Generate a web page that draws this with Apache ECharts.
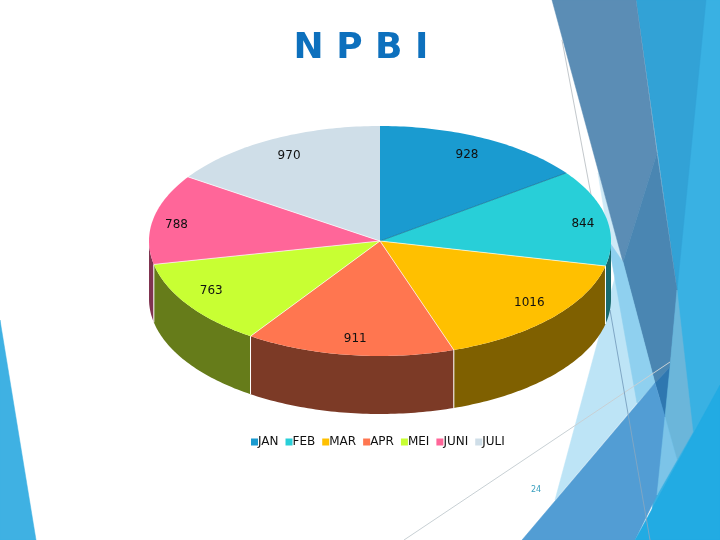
<!DOCTYPE html>
<html>
<head>
<meta charset="utf-8">
<style>html,body{margin:0;padding:0;background:#fff}#c{width:720px;height:540px}</style>
<script src="https://cdn.jsdelivr.net/npm/echarts@6/dist/echarts.min.js"></script>
</head>
<body>
<div id="c"></div>
<script>
const categories = ['JAN','FEB','MAR','APR','MEI','JUNI','JULI'];
const values = [928,844,1016,911,763,788,970];
const topColors = ['#1a9bd0','#28cfd8','#ffc000','#ff7650','#c8ff33','#ff6699','#cfdee8'];
const wallColors = ['#0e5570','#186a6e','#7f6000','#7c3a26','#667c1a','#7f3350','#6a7880'];

const CX = 380, CY = 241, RX = 231, RY = 115, DEPTH = 58;
const total = values.reduce((a,b)=>a+b,0);
function pt(deg, dy){
  const r = deg*Math.PI/180;
  return [CX+RX*Math.sin(r), CY-RY*Math.cos(r)+(dy||0)];
}
function arc(a1,a2,dy){
  const p=[]; const n=Math.max(2,Math.ceil(Math.abs(a2-a1)));
  for(let i=0;i<=n;i++) p.push(pt(a1+(a2-a1)*i/n,dy));
  return p;
}
function sliceItem(index){
  return function(params, api){
    let before=0; for(let i=0;i<index;i++) before+=values[i];
    const v=api.value(0);
    const a1=before/total*360, a2=(before+v)/total*360;
    const kids=[];
    const w1=Math.max(a1,90), w2=Math.min(a2,270);
    if(w2>w1){
      const front=arc(w1,w2,0), back=arc(w2,w1,DEPTH);
      kids.push({type:'polygon',shape:{points:front.concat(back)},style:{fill:wallColors[index]},z2:1});
      if(w2===a2){
        const p=pt(a2,0),q=pt(a2,DEPTH);
        kids.push({type:'line',shape:{x1:p[0],y1:p[1],x2:q[0],y2:q[1]},style:{stroke:'#fff',lineWidth:1},z2:2});
      }
    }
    kids.push({type:'polygon',shape:{points:[[CX,CY]].concat(arc(a1,a2,0))},style:{fill:topColors[index]},z2:3});
    if(index<values.length-1){
      const p=pt(a2,0);
      kids.push({type:'line',shape:{x1:CX,y1:CY,x2:p[0],y2:p[1]},
        style:{stroke:index===0?'#146a8f':'#fff',lineWidth:0.8,opacity:0.85},z2:4});
    }
    const m=(a1+a2)/2*Math.PI/180;
    const s=Math.abs(Math.sin(m)), c=Math.abs(Math.cos(m));
    kids.push({type:'text',z2:5,style:{text:String(v),
      x:CX+RX*(0.78+0.12*s)*Math.sin(m),
      y:CY-RY*(0.68+0.18*c)*Math.cos(m),
      align:'center',verticalAlign:'middle',fill:'#111',font:'12px "DejaVu Sans"'}});
    return {type:'group',children:kids};
  };
}
const decor = [
  {c:'#bde4f6',p:[[621,255],[555,500],[637,403],[655,383],[640,300]]},
  {c:'#cfeaf7',p:[[598,173],[623,257],[626,272],[614,272]]},
  {c:'#39b1e3',p:[[700,0],[720,0],[720,400],[650,540],[660,400],[670,367]]},
  {c:'#32a2d6',p:[[636,0],[706,0],[677,290]]},
  {c:'#5b8db5',p:[[552,0],[636,0],[657,153],[623,262]]},
  {c:'#4a86b2',p:[[657,153],[677,290],[670,367],[655,383],[623,262]]},
  {c:'#8fd0ef',p:[[608,240],[623,262],[655,383],[637,403]]},
  {c:'#2e77b0',p:[[655,383],[670,367],[665,417]]},
  {c:'#6bb6da',p:[[677,290],[693,432],[677,460],[665,417],[670,367]]},
  {c:'#529dd4',p:[[522,540],[655,383],[665,417],[657,495],[635,540]]},
  {c:'#7cc4e8',p:[[665,417],[677,460],[657,495]]},
  {c:'#22abe3',p:[[635,540],[720,385],[720,540]]},
  {c:'#3fb1e3',p:[[0,320],[36,540],[0,540]]}
];
const guideLines = [
  {c:'#c3c8cc',p:[562,40,592,200]},
  {c:'#c8d0d4',p:[404,540,670,362]},
  {c:'#7fa6c4',p:[610,310,650,540]}
];
const graphic = [];
decor.forEach(function(d){
  graphic.push({type:'polygon',shape:{points:d.p},style:{fill:d.c,stroke:d.c,lineWidth:0.5},z:0});
});
guideLines.forEach(function(l){
  graphic.push({type:'line',shape:{x1:l.p[0],y1:l.p[1],x2:l.p[2],y2:l.p[3]},style:{stroke:l.c,lineWidth:1},z:1});
});
graphic.push({type:'text',style:{text:'N P B I',x:361,y:49,align:'center',verticalAlign:'middle',fill:'#0d70bd',font:'bold 36px "DejaVu Sans"'},z:3});
graphic.push({type:'text',style:{text:'24',x:536,y:490,align:'center',verticalAlign:'middle',fill:'#3a9fbf',font:'8px "DejaVu Sans"'},z:3});

const chart = echarts.init(document.getElementById('c'),null,{renderer:'canvas'});
chart.setOption({
  animation:false,
  backgroundColor:'#fff',
  graphic:graphic,
  legend:{
    data:categories,left:246,top:431,itemWidth:7,itemHeight:7,itemGap:7,icon:'rect',
    selectedMode:false,
    textStyle:{color:'#111',fontFamily:'DejaVu Sans',fontSize:12,padding:[0,0,0,-5]}
  },
  series:categories.map(function(name,i){
    return {type:'custom',name:name,coordinateSystem:'none',data:[[values[i]]],
      itemStyle:{color:topColors[i]},renderItem:sliceItem(i),silent:true};
  })
});
</script>
</body>
</html>
